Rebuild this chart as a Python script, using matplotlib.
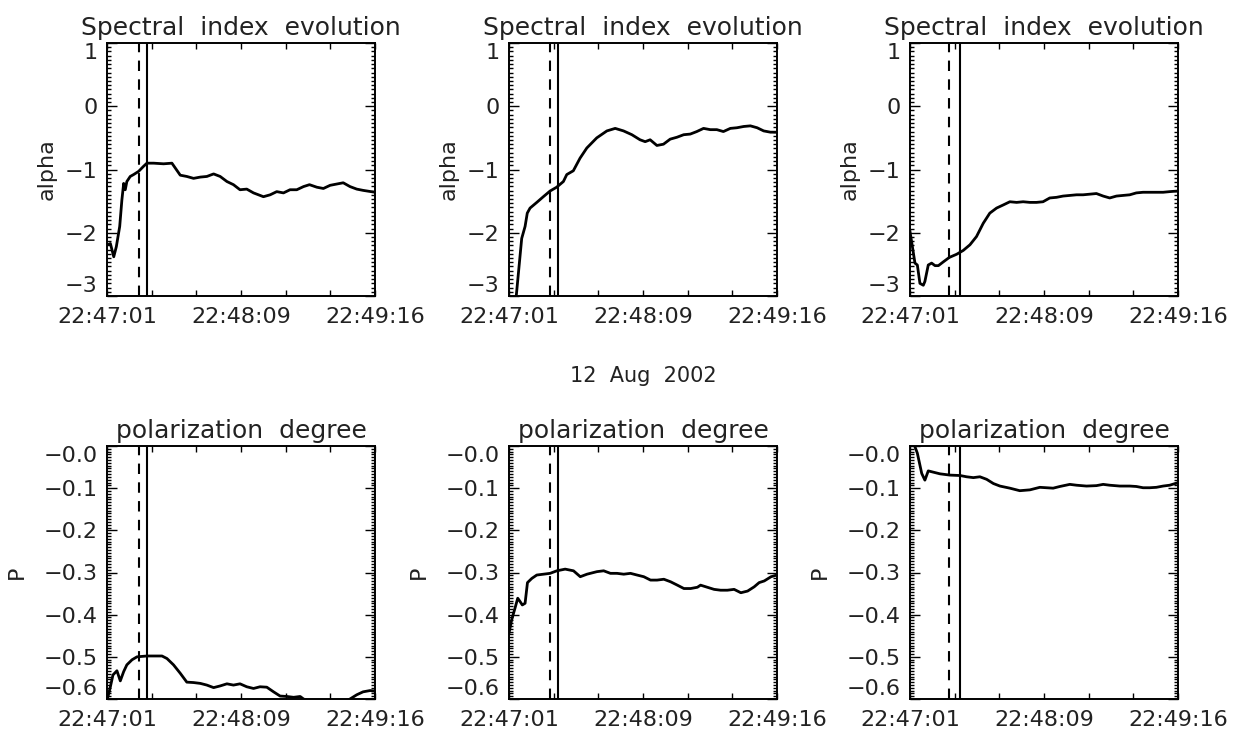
import matplotlib
matplotlib.use("Agg")
import matplotlib.pyplot as plt
from matplotlib.ticker import FixedLocator, FixedFormatter, AutoMinorLocator

# time axis: seconds after 22:47:01, range 135 s
x_ticks = [0, 22.5, 45, 67.5, 90, 112.5, 135]
x_labels = ["22:47:01", "", "", "22:48:09", "", "", "22:49:16"]

# vertical markers per column (dashed, solid), seconds
dash_t = [15.9, 20.7, 19.8]
solid_t = [20.1, 24.5, 25.2]

# spectral index (alpha) curves
t_a1 = [0.3, 1.7, 3.4, 4.7, 6.4, 7.5, 8.4, 9.2, 10, 11.7, 13.4, 15.9, 18.4, 20.1, 23.5, 28.5, 32.7,
        36.9, 40.2, 43.6, 47, 50.3, 53.7, 57, 60.4, 63.7, 67, 70.4, 73.8, 78.8, 82.2, 85.5, 88.9,
        92.2, 95.6, 99, 102, 105.7, 109, 112.4, 115.7, 119, 122.4, 125.8, 129, 135]
a1 = [-2.19, -2.17, -2.38, -2.22, -1.90, -1.48, -1.22, -1.32, -1.19, -1.11, -1.08, -1.03, -0.95,
      -0.90, -0.90, -0.91, -0.90, -1.09, -1.11, -1.14, -1.12, -1.11, -1.07, -1.11, -1.19, -1.24,
      -1.32, -1.31, -1.37, -1.43, -1.40, -1.35, -1.37, -1.32, -1.32, -1.27, -1.24, -1.28, -1.30,
      -1.25, -1.23, -1.21, -1.27, -1.31, -1.33, -1.36]

t_a2 = [3.5, 6.4, 8.1, 9.2, 10.6, 14, 17.3, 20.7, 24, 27.4, 29.1, 32.4, 35.8, 39.2, 44.2, 49.3,
        53.5, 57.7, 61.9, 66, 68.6, 71.1, 74.5, 77.8, 81.2, 84.6, 88, 91.3, 94.6, 98, 101.4,
        104.7, 108, 111.5, 114.8, 118.2, 121.6, 125, 128.3, 131.7, 135]
a2 = [-3.05, -2.09, -1.90, -1.69, -1.61, -1.52, -1.43, -1.34, -1.28, -1.19, -1.08, -1.02, -0.82,
      -0.66, -0.50, -0.39, -0.35, -0.39, -0.45, -0.53, -0.56, -0.53, -0.62, -0.60, -0.52, -0.49,
      -0.45, -0.44, -0.40, -0.35, -0.37, -0.37, -0.40, -0.35, -0.34, -0.32, -0.31, -0.34, -0.39,
      -0.41, -0.41]

t_a3 = [0, 1.7, 2.5, 3.7, 5, 6.7, 7.5, 9.2, 10.9, 12.6, 14.3, 16.8, 19.8, 23.5, 26.8, 30.2, 33.5,
        36.9, 40.2, 43.6, 47, 50.3, 53.7, 57, 60.4, 63.7, 67, 70.4, 73.8, 77.1, 80.5, 83.9, 87.2,
        90.6, 93.9, 97.3, 100.6, 104, 107.3, 110.7, 114, 117.4, 120.8, 124.1, 127.5, 130.8, 135]
a3 = [-1.98, -2.32, -2.48, -2.51, -2.80, -2.83, -2.77, -2.51, -2.48, -2.52, -2.52, -2.46, -2.39,
      -2.34, -2.28, -2.19, -2.06, -1.85, -1.69, -1.61, -1.56, -1.51, -1.52, -1.51, -1.52, -1.52,
      -1.51, -1.45, -1.44, -1.42, -1.41, -1.40, -1.40, -1.39, -1.38, -1.42, -1.45, -1.42, -1.41,
      -1.40, -1.37, -1.36, -1.36, -1.36, -1.36, -1.35, -1.34]

# polarization degree (P) curves
t_p1 = [0.3, 1.7, 3, 5, 6.7, 8.4, 10, 12.6, 15.1, 20.1, 23.5, 27.7, 30.2, 33.5, 36.9, 40.2, 43.6,
        47, 50.3, 53.7, 57, 60.4, 63.7, 67, 70.4, 73.8, 77.1, 80.5, 83.9, 87.2, 90.6, 94, 97.3,
        99, 105, 112, 118, 122.4, 125.8, 129, 132.5, 135]
p1 = [-0.598, -0.571, -0.543, -0.533, -0.557, -0.535, -0.519, -0.507, -0.500, -0.498, -0.498,
      -0.498, -0.504, -0.519, -0.539, -0.560, -0.561, -0.563, -0.567, -0.573, -0.569, -0.564,
      -0.567, -0.564, -0.571, -0.575, -0.571, -0.572, -0.583, -0.593, -0.594, -0.596, -0.594,
      -0.600, -0.610, -0.615, -0.610, -0.600, -0.590, -0.583, -0.580, -0.581]

t_p2 = [0, 1.3, 3, 4.4, 5.6, 6.7, 8.1, 9.3, 11.5, 14, 17.4, 20.7, 24.1, 28.3, 32.5, 35.9, 39.3,
        44.3, 47.7, 51.1, 54.4, 57.8, 61.2, 64.5, 67.9, 71.3, 74.6, 78, 81.4, 84.8, 88.1, 91.5,
        94.9, 96.5, 99.9, 103.3, 106.6, 110, 113.4, 116.8, 120.2, 123.5, 126, 128.6, 132, 135]
p2 = [-0.444, -0.413, -0.385, -0.361, -0.369, -0.377, -0.373, -0.324, -0.314, -0.306, -0.304,
      -0.302, -0.296, -0.292, -0.296, -0.310, -0.304, -0.298, -0.296, -0.302, -0.302, -0.304,
      -0.302, -0.306, -0.310, -0.318, -0.318, -0.316, -0.322, -0.330, -0.338, -0.338, -0.335,
      -0.330, -0.335, -0.340, -0.342, -0.342, -0.340, -0.348, -0.344, -0.334, -0.324, -0.320,
      -0.310, -0.306]

t_p3 = [0, 3.7, 5.9, 7.5, 9.2, 11.7, 15.1, 20.1, 25.2, 28.5, 31.9, 35.2, 38.6, 42, 45.3, 50.3,
        55.3, 60.4, 65.4, 68.8, 72.1, 75.5, 80.5, 83.9, 88.9, 93.9, 97.3, 100.6, 105.7, 110.7,
        114, 117.4, 120.8, 124.1, 127.5, 130.8, 135]
p3 = [0.03, -0.017, -0.065, -0.081, -0.059, -0.062, -0.066, -0.069, -0.070, -0.073, -0.075,
      -0.073, -0.079, -0.089, -0.095, -0.100, -0.106, -0.104, -0.098, -0.099, -0.100, -0.096,
      -0.091, -0.093, -0.095, -0.094, -0.091, -0.093, -0.095, -0.095, -0.096, -0.099, -0.099,
      -0.098, -0.095, -0.093, -0.087]

alpha_ticks = [1, 0, -1, -2, -3]
alpha_labels = ["1", "0", "\u22121", "\u22122", "\u22123"]
p_ticks = [0, -0.1, -0.2, -0.3, -0.4, -0.5, -0.6]
p_labels = ["\u22120.0", "\u22120.1", "\u22120.2", "\u22120.3", "\u22120.4", "\u22120.5", "\u22120.6"]

# IDL-style wide word gaps
top_title = "Spectral  index  evolution"
bottom_title = "polarization  degree"
date_text = "12  Aug  2002"

TXT = "#222222"
plt.rcParams["font.family"] = "DejaVu Sans"

fig = plt.figure(figsize=(12.34, 7.35), dpi=100)

lefts = [107 / 1234, 509 / 1234, 910 / 1234]
width = 268 / 1234
height = 253 / 735
bottoms = [1 - 296 / 735, 1 - 699 / 735]


def style_axes(ax, yticks, ylabels, ylim, ylabel, title, label_x):
    ax.set_xlim(0, 135)
    ax.set_ylim(*ylim)
    ax.xaxis.set_major_locator(FixedLocator(x_ticks))
    ax.xaxis.set_major_formatter(FixedFormatter(x_labels))
    ax.yaxis.set_major_locator(FixedLocator(yticks))
    ax.yaxis.set_major_formatter(FixedFormatter(ylabels))
    ax.yaxis.set_minor_locator(AutoMinorLocator(15))
    ax.tick_params(which="both", direction="in", top=True, right=True,
                   colors="black", labelcolor=TXT, width=1.0)
    ax.tick_params(axis="x", which="major", length=4, labelsize=16, pad=8)
    ax.tick_params(axis="y", which="major", length=7, labelsize=16, pad=7)
    ax.tick_params(axis="y", which="minor", length=3)
    # keep end labels inside the axis box, like the original
    ylab = ax.get_yticklabels()
    ylab[0].set_verticalalignment("top")
    ylab[-1].set_verticalalignment("bottom")
    for s in ax.spines.values():
        s.set_linewidth(1.4)
    ax.set_title(title, fontsize=18, color=TXT, pad=6)
    ax.set_ylabel(ylabel, fontsize=16, color=TXT, va="center")
    ax.yaxis.set_label_coords(label_x, 0.5)


alpha_t = [t_a1, t_a2, t_a3]
alpha_v = [a1, a2, a3]
p_t = [t_p1, t_p2, t_p3]
p_v = [p1, p2, p3]

for i in range(3):
    ax = fig.add_axes([lefts[i], bottoms[0], width, height])
    ax.plot(alpha_t[i], alpha_v[i], color="black", lw=2)
    ax.axvline(dash_t[i], color="black", lw=1.5, linestyle=(0, (5, 4)))
    ax.axvline(solid_t[i], color="black", lw=1.5)
    style_axes(ax, alpha_ticks, alpha_labels, (-3, 1), "alpha", top_title, -0.225)

    ax = fig.add_axes([lefts[i], bottoms[1], width, height])
    ax.plot(p_t[i], p_v[i], color="black", lw=2)
    ax.axvline(dash_t[i], color="black", lw=1.5, linestyle=(0, (5, 4)))
    ax.axvline(solid_t[i], color="black", lw=1.5)
    style_axes(ax, p_ticks, p_labels, (-0.6, 0), "P", bottom_title, -0.335)

fig.text(643 / 1234, 1 - 376 / 735, date_text, fontsize=15, color=TXT,
         ha="center", va="center")

fig.savefig("out.png", dpi=100)
